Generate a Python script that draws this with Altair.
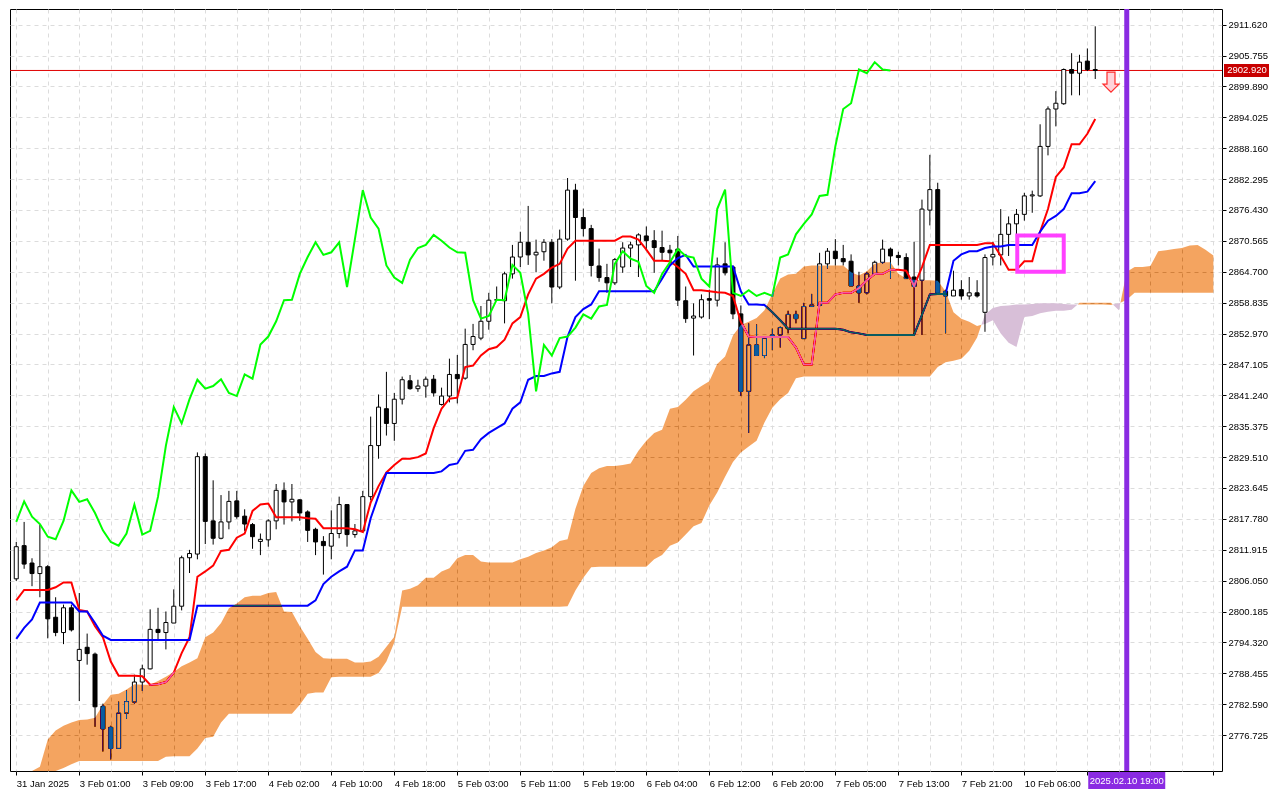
import json
import altair as alt
import pandas as pd

# ---------------- data (XAUUSD H1, Ichimoku) ----------------
opens = [2806.4, 2812.7, 2809.4, 2807.4, 2808.7, 2799.1, 2796.2, 2800.9, 2790.9, 2793.4,
         2792.1, 2782.2, 2778.2, 2774.2, 2780.9, 2783.0, 2786.8, 2789.3, 2796.8, 2796.2,
         2798.0, 2801.2, 2810.4, 2811.1, 2829.6, 2817.4, 2814.1, 2817.2, 2821.2, 2818.3,
         2816.7, 2813.5, 2813.8, 2817.4, 2823.2, 2821.0, 2821.4, 2819.1, 2815.8, 2813.5,
         2812.6, 2815.0, 2820.5, 2814.8, 2815.5, 2822.0, 2831.7, 2838.7, 2835.9, 2840.5,
         2844.0, 2842.5, 2843.0, 2844.3, 2839.5, 2841.1, 2845.2, 2844.5, 2850.9, 2852.1,
         2855.3, 2859.3, 2859.2, 2864.3, 2867.5, 2870.3, 2867.9, 2868.5, 2870.3, 2861.8,
         2870.9, 2880.2, 2875.0, 2872.9, 2865.8, 2863.6, 2862.6, 2865.6, 2869.2, 2869.8,
         2871.5, 2870.6, 2869.3, 2868.8, 2869.0, 2859.2, 2855.9, 2856.1, 2859.6, 2859.3,
         2866.2, 2865.6, 2856.7, 2842.0, 2850.8, 2848.8, 2852.7, 2852.7, 2853.9, 2856.6,
         2852.0, 2858.1, 2858.3, 2866.2, 2868.6, 2867.2, 2866.7, 2862.0, 2860.7, 2864.3,
         2866.5, 2869.0, 2867.8, 2867.4, 2863.7, 2863.1, 2876.4, 2880.3, 2861.0, 2860.1,
         2861.3, 2860.1, 2860.7, 2857.0, 2867.5, 2867.9, 2871.8, 2873.8, 2875.6, 2879.1,
         2879.1, 2888.5, 2895.6, 2896.6, 2903.1, 2902.4, 2904.7, 2903.1]
highs = [2813.4, 2817.2, 2810.3, 2816.7, 2809.0, 2802.9, 2801.5, 2801.5, 2803.7, 2796.0,
         2792.4, 2782.7, 2778.5, 2783.1, 2785.2, 2788.2, 2790.1, 2800.6, 2800.9, 2800.2,
         2804.4, 2810.8, 2811.9, 2830.4, 2830.2, 2825.1, 2822.3, 2823.1, 2823.1, 2819.6,
         2817.0, 2815.0, 2817.7, 2824.4, 2824.7, 2824.4, 2821.5, 2819.4, 2816.1, 2814.5,
         2819.4, 2822.0, 2820.5, 2816.8, 2823.1, 2837.2, 2841.4, 2845.7, 2841.7, 2844.8,
         2845.1, 2844.2, 2844.8, 2845.1, 2842.7, 2848.2, 2848.9, 2853.9, 2854.8, 2858.2,
         2860.7, 2861.9, 2864.7, 2869.8, 2872.3, 2877.2, 2870.8, 2870.9, 2870.9, 2872.7,
         2882.5, 2881.4, 2876.7, 2873.6, 2869.1, 2866.2, 2867.3, 2870.3, 2870.4, 2872.0,
         2873.3, 2872.6, 2872.5, 2869.8, 2871.5, 2861.9, 2858.7, 2860.4, 2861.3, 2867.4,
         2870.3, 2865.9, 2858.3, 2854.9, 2854.7, 2852.4, 2853.9, 2854.3, 2857.3, 2857.3,
         2858.8, 2860.5, 2868.3, 2869.2, 2870.9, 2869.8, 2868.0, 2864.7, 2864.7, 2866.8,
         2870.8, 2869.3, 2868.5, 2868.2, 2870.4, 2878.4, 2886.9, 2881.6, 2861.3, 2864.9,
         2863.1, 2863.7, 2863.1, 2868.0, 2870.4, 2876.6, 2875.2, 2876.6, 2879.7, 2880.1,
         2892.7, 2896.1, 2899.0, 2903.3, 2906.2, 2905.9, 2907.1, 2911.3]
lows = [2806.0, 2808.3, 2805.0, 2802.9, 2795.1, 2795.5, 2794.0, 2796.4, 2783.2, 2790.1,
        2778.3, 2773.6, 2772.1, 2774.1, 2779.8, 2782.7, 2785.1, 2789.2, 2794.9, 2793.0,
        2798.0, 2800.4, 2807.5, 2810.1, 2813.0, 2812.9, 2813.9, 2815.8, 2817.8, 2815.5,
        2812.1, 2810.9, 2812.5, 2815.8, 2816.7, 2817.3, 2817.4, 2813.4, 2810.9, 2807.2,
        2810.1, 2814.1, 2812.5, 2814.2, 2815.2, 2821.3, 2829.2, 2833.6, 2832.6, 2839.5,
        2842.3, 2841.9, 2840.8, 2841.0, 2839.3, 2839.9, 2839.7, 2844.2, 2849.8, 2851.7,
        2853.7, 2859.2, 2854.9, 2863.4, 2865.6, 2866.0, 2864.6, 2866.8, 2858.7, 2861.4,
        2870.6, 2863.0, 2871.4, 2863.8, 2862.8, 2860.7, 2862.2, 2864.5, 2865.6, 2863.7,
        2868.7, 2864.5, 2866.8, 2865.9, 2858.2, 2855.0, 2848.8, 2855.8, 2855.7, 2858.1,
        2864.0, 2855.7, 2841.1, 2834.1, 2848.8, 2848.3, 2849.8, 2850.3, 2853.0, 2854.9,
        2852.0, 2858.1, 2858.3, 2865.3, 2865.9, 2865.9, 2862.0, 2858.8, 2860.4, 2864.2,
        2866.2, 2863.4, 2865.9, 2863.4, 2852.7, 2852.7, 2873.5, 2860.7, 2853.0, 2860.1,
        2859.4, 2859.4, 2859.8, 2853.3, 2865.9, 2865.9, 2867.7, 2871.1, 2874.4, 2875.9,
        2878.9, 2886.8, 2892.3, 2896.4, 2898.2, 2898.2, 2902.8, 2901.3]
closes = [2812.5, 2809.2, 2807.4, 2808.7, 2798.8, 2796.2, 2800.9, 2796.7, 2793.0, 2792.2,
          2782.1, 2777.9, 2774.2, 2780.9, 2783.1, 2786.8, 2789.3, 2796.8, 2796.2, 2798.1,
          2801.2, 2810.4, 2811.2, 2829.6, 2817.3, 2814.1, 2817.2, 2821.1, 2818.2, 2816.8,
          2814.4, 2813.9, 2817.4, 2823.2, 2821.0, 2821.5, 2818.9, 2815.6, 2813.4, 2812.7,
          2815.0, 2820.5, 2814.8, 2815.5, 2822.0, 2831.7, 2839.0, 2835.9, 2840.5, 2844.2,
          2842.5, 2843.0, 2844.3, 2841.7, 2841.1, 2845.2, 2844.4, 2850.9, 2852.4, 2855.3,
          2859.3, 2859.4, 2864.3, 2867.5, 2870.3, 2867.9, 2868.4, 2870.3, 2861.8, 2870.9,
          2880.2, 2875.0, 2872.9, 2865.9, 2863.6, 2862.6, 2867.0, 2869.2, 2869.8, 2871.7,
          2870.6, 2869.3, 2868.4, 2868.3, 2859.3, 2855.8, 2856.3, 2859.4, 2859.3, 2866.0,
          2864.5, 2856.7, 2842.0, 2850.8, 2848.8, 2852.1, 2852.4, 2854.1, 2856.6, 2855.8,
          2858.1, 2858.4, 2866.2, 2868.6, 2867.2, 2866.6, 2862.0, 2860.7, 2864.3, 2866.5,
          2869.0, 2867.7, 2867.4, 2863.4, 2861.9, 2876.6, 2880.3, 2860.7, 2860.1, 2861.2,
          2860.1, 2860.7, 2860.1, 2867.4, 2868.0, 2871.8, 2873.8, 2875.6, 2879.1, 2879.3,
          2888.5, 2895.6, 2896.7, 2903.1, 2902.4, 2904.5, 2903.1, 2902.92]

tenkan = [2802.3, 2804.3, 2804.3, 2804.3, 2804.3, 2804.8, 2805.7, 2805.7, 2800.5, 2800.2,
          2797.4, 2795.3, 2790.7, 2788.0, 2788.0, 2788.0, 2787.9, 2786.3, 2786.4, 2786.8,
          2788.6, 2792.3, 2795.3, 2806.8, 2807.8, 2808.9, 2811.7, 2811.9, 2814.2, 2815.0,
          2819.3, 2820.5, 2820.7, 2818.1, 2818.1, 2818.1, 2818.1, 2817.9, 2817.8, 2816.0,
          2816.0, 2816.0, 2816.0, 2815.8, 2815.3, 2820.9, 2824.0, 2826.6, 2828.0, 2829.2,
          2829.2, 2829.5, 2830.2, 2835.0, 2838.7, 2840.6, 2840.8, 2846.6, 2846.9, 2848.8,
          2850.0, 2850.4, 2851.8, 2854.9, 2856.1, 2860.4, 2863.4, 2864.3, 2865.5, 2866.2,
          2869.1, 2870.6, 2870.6, 2870.6, 2870.6, 2870.6, 2870.6, 2871.4, 2871.4, 2870.8,
          2868.9, 2866.8, 2866.8, 2866.7, 2865.6, 2864.3, 2861.2, 2861.2, 2861.0, 2860.8,
          2860.7, 2860.1, 2855.2, 2852.4, 2852.3, 2852.3, 2852.3, 2852.3, 2852.3, 2850.3,
          2847.1, 2847.1, 2858.8, 2858.8, 2860.4, 2860.7, 2860.7, 2861.6, 2863.1, 2864.3,
          2864.3, 2865.1, 2865.1, 2864.9, 2862.0, 2865.6, 2869.8, 2869.8, 2869.8, 2869.8,
          2869.8, 2869.8, 2869.8, 2870.1, 2870.1, 2867.7, 2865.1, 2865.1, 2866.7, 2866.7,
          2872.3, 2876.6, 2882.7, 2884.5, 2888.9, 2888.9, 2890.9, 2893.7]
kijun = [2795.0, 2797.1, 2798.7, 2801.9, 2801.9, 2801.9, 2801.9, 2801.9, 2800.2, 2800.2,
         2798.0, 2795.6, 2794.8, 2794.8, 2794.8, 2794.8, 2794.8, 2794.8, 2794.8, 2794.8,
         2794.8, 2794.8, 2794.8, 2801.3, 2801.3, 2801.3, 2801.3, 2801.3, 2801.3, 2801.3,
         2801.3, 2801.3, 2801.3, 2801.3, 2801.3, 2801.3, 2801.3, 2801.3, 2802.3, 2805.4,
         2806.8, 2807.8, 2808.7, 2811.8, 2811.8, 2817.9, 2822.2, 2826.5, 2826.5, 2826.5,
         2826.5, 2826.5, 2826.5, 2826.5, 2826.8, 2828.0, 2828.3, 2830.7, 2830.9, 2832.9,
         2834.1, 2835.0, 2835.9, 2838.7, 2839.9, 2844.2, 2844.9, 2844.9, 2845.4, 2845.7,
         2852.4, 2856.1, 2857.6, 2858.5, 2861.0, 2861.0, 2861.0, 2861.0, 2861.0, 2861.0,
         2861.0, 2861.0, 2863.4, 2865.9, 2867.3, 2867.9, 2865.7, 2865.7, 2865.7, 2865.7,
         2865.7, 2865.7, 2861.0, 2858.5, 2858.5, 2858.4, 2857.0, 2855.5, 2853.9, 2853.9,
         2853.9, 2853.9, 2853.9, 2853.9, 2853.9, 2853.7, 2853.2, 2853.0, 2852.7, 2852.7,
         2852.7, 2852.7, 2852.7, 2852.7, 2852.7, 2856.5, 2860.4, 2860.5, 2860.5, 2866.8,
         2868.0, 2868.6, 2868.6, 2869.2, 2869.5, 2869.5, 2869.8, 2869.8, 2869.8, 2869.8,
         2872.3, 2874.4, 2875.3, 2876.6, 2879.6, 2879.6, 2879.9, 2881.9]
senkou_a = [2767.2, 2768.1, 2769.0, 2770.7, 2775.9, 2777.6, 2778.5, 2779.1, 2779.6, 2779.7,
            2780.0, 2782.5, 2784.4, 2784.6, 2785.4, 2786.4, 2786.3, 2786.3, 2787.0, 2787.8,
            2788.7, 2789.8, 2790.5, 2791.3, 2795.3, 2796.2, 2798.0, 2800.8, 2801.7, 2802.9,
            2803.2, 2803.2, 2803.7, 2803.9, 2800.2, 2800.1, 2797.4, 2795.0, 2792.5, 2791.3,
            2791.2, 2791.2, 2791.2, 2790.5, 2790.5, 2790.7, 2791.6, 2793.5, 2795.4, 2804.2,
            2804.5, 2805.2, 2806.6, 2806.6, 2807.8, 2808.4, 2810.3, 2810.9, 2810.9, 2809.7,
            2809.5, 2809.5, 2809.5, 2809.5, 2810.1, 2810.6, 2811.3, 2811.8, 2812.4, 2813.6,
            2813.9, 2819.7, 2824.0, 2826.5, 2827.4, 2827.8, 2827.8, 2828.0, 2828.3, 2830.7,
            2832.6, 2834.1, 2834.7, 2838.7, 2839.0, 2840.4, 2842.0, 2843.0, 2843.9, 2847.2,
            2848.6, 2852.6, 2854.6, 2855.2, 2855.9, 2857.4, 2860.5, 2863.4, 2864.2, 2864.3,
            2865.7, 2865.9, 2865.9, 2865.9, 2865.9, 2865.9, 2864.6, 2864.0, 2864.8, 2866.2,
            2866.5, 2866.5, 2864.3, 2863.4, 2863.2, 2863.1, 2863.1, 2863.0, 2861.0, 2857.0,
            2855.8, 2855.2, 2854.4, 2854.8, 2855.5, 2853.0, 2851.2, 2850.4, 2856.1, 2856.3,
            2856.8, 2857.1, 2857.3, 2857.3, 2857.5, 2858.8, 2858.8, 2858.8, 2858.8, 2858.8,
            2857.4, 2864.7, 2865.6, 2865.6, 2865.8, 2868.6, 2868.8, 2869.0, 2869.2, 2869.7,
            2869.8, 2868.9, 2867.8]
senkou_b = [2765.4, 2765.7, 2766.1, 2767.2, 2769.0, 2769.9, 2770.5, 2771.2, 2771.8, 2771.8,
            2771.8, 2771.8, 2771.8, 2771.8, 2771.8, 2771.8, 2771.8, 2771.8, 2771.8, 2772.6,
            2772.7, 2772.7, 2772.7, 2774.2, 2776.2, 2776.4, 2779.1, 2780.8, 2780.8, 2780.8,
            2780.8, 2780.8, 2780.8, 2780.8, 2780.8, 2780.8, 2782.5, 2784.6, 2784.8, 2784.8,
            2787.7, 2787.8, 2787.8, 2787.8, 2787.8, 2787.8, 2788.5, 2790.7, 2794.3, 2801.1,
            2801.1, 2801.1, 2801.1, 2801.1, 2801.1, 2801.1, 2801.1, 2801.1, 2801.1, 2801.1,
            2801.1, 2801.1, 2801.1, 2801.1, 2801.1, 2801.1, 2801.1, 2801.1, 2801.1, 2801.1,
            2801.2, 2804.2, 2806.6, 2808.6, 2808.7, 2808.7, 2808.7, 2808.7, 2808.7, 2808.7,
            2808.7, 2810.1, 2810.9, 2812.7, 2813.3, 2814.8, 2816.4, 2817.0, 2820.3, 2822.8,
            2825.8, 2828.6, 2830.4, 2831.5, 2832.6, 2836.1, 2838.9, 2840.5, 2841.7, 2844.5,
            2844.8, 2844.8, 2844.8, 2844.8, 2844.8, 2844.8, 2844.8, 2844.8, 2844.8, 2844.8,
            2844.8, 2844.8, 2844.8, 2844.8, 2844.8, 2844.8, 2844.8, 2846.6, 2847.5, 2847.8,
            2848.2, 2849.7, 2852.2, 2856.6, 2857.8, 2858.2, 2858.3, 2858.5, 2858.5, 2858.6,
            2858.7, 2858.7, 2858.7, 2858.6, 2858.5, 2858.5, 2858.5, 2858.5, 2858.5, 2858.4,
            2858.7, 2859.4, 2860.7, 2860.7, 2860.7, 2860.7, 2860.7, 2860.7, 2860.7, 2860.7,
            2860.7, 2860.7, 2860.7]

x_tick_labels = ["31 Jan 2025", "3 Feb 01:00", "3 Feb 09:00", "3 Feb 17:00", "4 Feb 02:00",
                 "4 Feb 10:00", "4 Feb 18:00", "5 Feb 03:00", "5 Feb 11:00", "5 Feb 19:00",
                 "6 Feb 04:00", "6 Feb 12:00", "6 Feb 20:00", "7 Feb 05:00", "7 Feb 13:00",
                 "7 Feb 21:00", "10 Feb 06:00", ""]
price_ticks = [2911.620, 2905.755, 2899.890, 2894.025, 2888.160, 2882.295, 2876.430, 2870.565,
               2864.700, 2858.835, 2852.970, 2847.105, 2841.240, 2835.375, 2829.510, 2823.645,
               2817.780, 2811.915, 2806.050, 2800.185, 2794.320, 2788.455, 2782.590, 2776.725]

chikou_shift = 26
vline_bar = 141
vline_label = "2025.02.10 19:00"
box_bars = [127.1, 133.0]
box_prices = [2871.6, 2864.7]
arrow_bar = [139]
arrow_price = [2900.7]

# ---------------- layout ----------------
W, H = 1212, 762
FONT = "Liberation Sans"
FS = 9.5
x_scale = alt.Scale(domain=[-0.16, 152.46], nice=False, zero=False)
y_scale = alt.Scale(domain=[2770.86, 2913.64], nice=False, zero=False, clamp=True)

label_expr = ("datum.value % 8 === 0 && datum.value <= 136 ? "
              + json.dumps(x_tick_labels) + "[datum.value / 8] : ''")
x_axis = alt.Axis(values=list(range(0, 153, 4)), labelExpr=label_expr, grid=True,
                  gridColor="#DCDCDC", gridDash=[4, 4], gridWidth=1, domain=False,
                  ticks=True, tickColor="#000000", tickSize=4,
                  tickOpacity={"condition": {"test": "datum.value % 8 === 0", "value": 1}, "value": 0},
                  labelAlign="left", labelBaseline="top", labelPadding=3, labelFont=FONT,
                  labelFontSize=FS, labelColor="#000000", labelOverlap=False, labelFlush=False,
                  labelBound=False, title=None)
y_axis = alt.Axis(orient="right", values=price_ticks, format=".3f", grid=True,
                  gridColor="#DCDCDC", gridDash=[4, 4], gridWidth=1, domain=False,
                  tickColor="#000000", tickSize=4, labelPadding=2, labelFont=FONT,
                  labelFontSize=FS, labelColor="#000000", labelOverlap=False, labelFlush=False,
                  title=None)


def X(f):
    return alt.X(f, type="quantitative", scale=x_scale, axis=x_axis)


def Y(f):
    return alt.Y(f, type="quantitative", scale=y_scale, axis=y_axis)


n = len(closes)
candles = pd.DataFrame({"i": list(range(n)), "open": opens, "high": highs, "low": lows,
                        "close": closes})
candles["dir"] = ["up" if c >= o else "down" for o, c in zip(opens, closes)]
lines = pd.DataFrame({"i": list(range(n)), "tenkan": tenkan, "kijun": kijun})
chikou = pd.DataFrame({"i": list(range(n - chikou_shift)), "v": closes[chikou_shift:]})


def cloud_rows(a, b, a_above):
    rows, seg = [], 0
    for i in range(len(a)):
        d = a[i] - b[i]
        cond = (d >= 0) if a_above else (d < 0)
        if i > 0:
            dp = a[i - 1] - b[i - 1]
            condp = (dp >= 0) if a_above else (dp < 0)
            if cond != condp and dp != d:
                t = dp / (dp - d)
                xc = i - 1 + t
                vc = a[i - 1] + t * (a[i] - a[i - 1])
                rows.append((xc, vc, vc, seg))
                if condp:
                    seg += 1
        if cond:
            rows.append((i, max(a[i], b[i]), min(a[i], b[i]), seg))
    return pd.DataFrame(rows, columns=["x", "hi", "lo", "seg"])


sandy = cloud_rows(senkou_a, senkou_b, True)
thistle = cloud_rows(senkou_a, senkou_b, False)

thistle_layer = alt.Chart(thistle).mark_area(color="#D8BFD8", orient="vertical").encode(
    x=X("x"), y=Y("hi"), y2="lo", detail="seg:N")
price_df = pd.DataFrame({"p": [closes[-1]], "label": [f"{closes[-1]:.3f}"]})
price_line = alt.Chart(price_df).mark_rule(color="#E00000", strokeWidth=1).encode(y=Y("p"))
wicks = alt.Chart(candles).mark_rule(color="#000000", strokeWidth=1).encode(
    x=X("i"), y=Y("low"), y2="high")
bodies = alt.Chart(candles).mark_bar(width=4, stroke="#000000", strokeWidth=1, opacity=1).encode(
    x=X("i"), y=Y("open"), y2="close",
    fill=alt.Fill("dir:N", scale=alt.Scale(domain=["up", "down"], range=["#FFFFFF", "#000000"]),
                  legend=None))
ten_layer = alt.Chart(lines).mark_line(color="#FF0000", strokeWidth=2).encode(x=X("i"), y=Y("tenkan"))
kij_layer = alt.Chart(lines).mark_line(color="#0000FF", strokeWidth=2).encode(x=X("i"), y=Y("kijun"))
chi_layer = alt.Chart(chikou).mark_line(color="#00FF00", strokeWidth=2).encode(x=X("i"), y=Y("v"))
# cloud drawn with XOR-like blending, as MetaTrader does
sandy_layer = alt.Chart(sandy).mark_area(color="#0B5B9F", blend="difference",
                                         orient="vertical").encode(
    x=X("x"), y=Y("hi"), y2="lo", detail="seg:N")
vdf = pd.DataFrame({"i": [vline_bar], "label": [vline_label]})
vline = alt.Chart(vdf).mark_bar(width=5, color="#8A2BE2", opacity=1).encode(
    x=X("i"), y=alt.value(0), y2=alt.value(H))
box_df = pd.DataFrame({"x1": [box_bars[0]], "x2": [box_bars[1]],
                       "p1": [box_prices[0]], "p2": [box_prices[1]]})
box = alt.Chart(box_df).mark_rect(fillOpacity=0, stroke="#FF40FF", strokeWidth=4).encode(
    x=X("x1"), x2="x2", y=Y("p1"), y2="p2")
arrow_df = pd.DataFrame({"i": arrow_bar, "p": arrow_price})
ARROW = "M -0.4 -1 L 0.4 -1 L 0.4 0.2 L 0.8 0.2 L 0 1 L -0.8 0.2 L -0.4 0.2 Z"
arrow = alt.Chart(arrow_df).mark_point(shape=ARROW, size=400, filled=True, fill="#FFD3DA",
                                       stroke="#FF2A2A", strokeWidth=1.2, opacity=1).encode(
    x=X("i"), y=Y("p"))
price_box = alt.Chart(price_df).mark_bar(orient="horizontal", height=13, color="#C80000",
                                         opacity=1).encode(
    x=alt.value(W + 2), x2=alt.value(W + 47), y=Y("p"))
price_txt = alt.Chart(price_df).mark_text(color="#FFFFFF", font=FONT, fontSize=FS,
                                          align="center", baseline="middle").encode(
    x=alt.value(W + 25), y=Y("p"), text="label:N")
time_box = alt.Chart(vdf).mark_bar(width=77, color="#8A2BE2", opacity=1).encode(
    x=X("i"), y=alt.value(H + 1), y2=alt.value(H + 18))
time_txt = alt.Chart(vdf).mark_text(color="#FFFFFF", font=FONT, fontSize=FS,
                                    align="center", baseline="middle").encode(
    x=X("i"), y=alt.value(H + 10), text="label:N")

chart = alt.layer(
    thistle_layer, price_line, wicks, bodies, ten_layer, kij_layer, chi_layer,
    sandy_layer, vline, box, arrow, price_box, price_txt, time_box, time_txt
).properties(
    width=W, height=H, background="white",
    padding={"left": 1, "top": 1, "right": 2, "bottom": 0}
).configure_view(stroke="#000000", strokeWidth=1)

chart.save("out.html", embed_options={"renderer": "svg", "actions": False})
